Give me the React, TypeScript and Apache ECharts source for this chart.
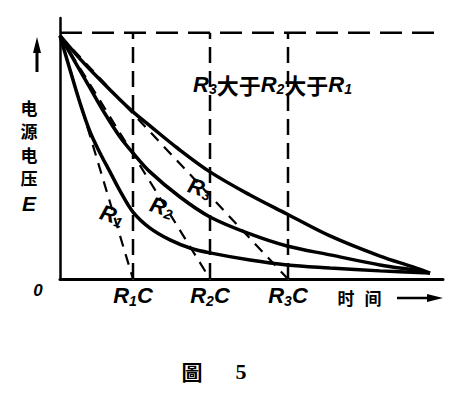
import React, { useEffect, useRef } from 'react';
import * as echarts from 'echarts';

// time axis in arbitrary units (R1C = 73), voltage as fraction of source E
const r3Time = [0, 20, 40, 60, 73, 90, 117, 150, 190, 227, 270, 320, 353, 370];
const r3Volt = [0.988, 0.894, 0.809, 0.728, 0.679, 0.622, 0.533, 0.435, 0.341, 0.264, 0.175, 0.093, 0.049, 0.024];
const r2Time = [0, 15, 30, 45, 60, 73, 90, 120, 150, 190, 227, 270, 320, 360, 370];
const r2Volt = [0.988, 0.882, 0.776, 0.671, 0.577, 0.512, 0.435, 0.333, 0.252, 0.183, 0.134, 0.098, 0.057, 0.033, 0.024];
const r1Time = [0, 10, 20, 30, 40, 50, 60, 73, 90, 110, 130, 150, 190, 227, 270, 320, 370];
const r1Volt = [0.988, 0.85, 0.715, 0.598, 0.512, 0.435, 0.358, 0.272, 0.207, 0.159, 0.126, 0.106, 0.077, 0.057, 0.045, 0.033, 0.024];
const rcTimes = [73, 150, 228];
const rcSubs = ['1', '2', '3'];
const startVolt = 0.988;
const sourceVolt = 1;
const timeMax = 383;
const voltMax = 1.06;

const ITALIC = 'Liberation Sans';
const CJK = 'Noto Sans CJK SC';

const richR = {
  r: { fontFamily: ITALIC, fontStyle: 'italic' as const, fontWeight: 'bold' as const, fontSize: 22, color: '#000', fill: '#000' },
  s: { fontFamily: ITALIC, fontStyle: 'italic' as const, fontWeight: 'bold' as const, fontSize: 14, color: '#000', fill: '#000', padding: [10, 0, 0, 0] },
  c: { fontFamily: CJK, fontWeight: 'bold' as const, fontSize: 22, color: '#000', fill: '#000' },
};

export default function App() {
  const ref = useRef<HTMLDivElement>(null);
  useEffect(() => {
    if (!ref.current) return;
    const chart = echarts.init(ref.current, undefined, { renderer: 'svg' });
    const zip = (xs: number[], ys: number[]) => xs.map((x, i) => [x, ys[i]]);
    const curve = (name: string, xs: number[], ys: number[]) => ({
      name,
      type: 'line',
      data: zip(xs, ys),
      smooth: 0.35,
      showSymbol: false,
      symbol: 'none',
      lineStyle: { color: '#000', width: 3.5 },
      z: 5,
    });
    const dashed = (data: number[][], dash: number[], width = 2.5) => ({
      type: 'line',
      data,
      showSymbol: false,
      symbol: 'none',
      lineStyle: { color: '#000', width, type: dash },
      z: 3,
    });
    const series: any[] = [
      curve('R3', r3Time, r3Volt),
      curve('R2', r2Time, r2Volt),
      curve('R1', r1Time, r1Volt),
      ...rcTimes.map((t) => dashed([[0, startVolt], [t, 0]], [11, 8], 2.2)),
      ...rcTimes.map((t) => dashed([[t, 0], [t, sourceVolt]], [16, 8], 2.5)),
      dashed([[0, sourceVolt], [timeMax - 3, sourceVolt]], [22, 10], 2.5),
      {
        type: 'scatter',
        data: rcTimes.map((t, i) => ({
          value: [t, 0],
          label: {
            show: true,
            position: 'bottom',
            distance: 4,
            color: '#000',
            opacity: 1,
            formatter: `{r|R}{s|${rcSubs[i]}}{r|C}`,
            rich: richR,
          },
        })),
        symbol: 'circle',
        symbolSize: 1,
        itemStyle: { color: '#fff', opacity: 1 },
        z: 1,
        silent: true,
      },
    ];
    const txt = (text: string, x: number, y: number, style: any, extra: any = {}) => ({
      type: 'text',
      x,
      y,
      style: { text, fill: '#000', align: 'center', verticalAlign: 'middle', ...style },
      ...extra,
    });
    const yChars = ['电', '源', '电', '压'];
    const graphic: any[] = [
      { type: 'line', shape: { x1: 37, y1: 72, x2: 37, y2: 48 }, style: { stroke: '#000', lineWidth: 3 } },
      { type: 'polygon', shape: { points: [[33, 53], [41, 53], [37, 37]] }, style: { fill: '#000' } },
      ...yChars.map((c, i) => txt(c, 29, 107 + i * 23.5, { font: `bold 17px "${CJK}"` })),
      txt('E', 29, 203, { font: `italic bold 21px "${ITALIC}"` }),
      txt('0', 38, 290, { font: `italic bold 17px "${ITALIC}"` }),
      txt('时', 346, 297, { font: `bold 17px "${CJK}"` }),
      txt('间', 373, 297, { font: `bold 17px "${CJK}"` }),
      { type: 'line', shape: { x1: 397, y1: 298, x2: 432, y2: 298 }, style: { stroke: '#000', lineWidth: 2.5 } },
      { type: 'polygon', shape: { points: [[427, 294], [443, 298], [427, 302]] }, style: { fill: '#000' } },
      txt('{r|R}{s|3}{c|大于}{r|R}{s|2}{c|大于}{r|R}{s|1}', 193, 84, { align: 'left', rich: richR }),
      txt('{r|R}{s|3}', 200, 188, { rich: richR }, { rotation: -0.3 }),
      txt('{r|R}{s|2}', 162, 207, { rich: richR }, { rotation: -0.3 }),
      txt('{r|R}{s|1}', 112, 215, { rich: richR }, { rotation: -0.3 }),
      txt('圖', 192, 371, { font: `bold 21px "Noto Sans CJK TC"` }),
      txt('5', 241, 371, { font: `bold 22px "Liberation Serif"` }),
    ];
    chart.setOption({
      animation: false,
      backgroundColor: '#fff',
      grid: { left: 60, right: 10, top: 18, bottom: 120 },
      xAxis: {
        type: 'value',
        min: 0,
        max: timeMax,
        axisLine: { show: true, lineStyle: { color: '#000', width: 3 } },
        axisTick: { show: false },
        axisLabel: { show: false },
        splitLine: { show: false },
      },
      yAxis: {
        type: 'value',
        min: 0,
        max: voltMax,
        axisLine: { show: true, lineStyle: { color: '#000', width: 2.5 } },
        axisTick: { show: false },
        axisLabel: { show: false },
        splitLine: { show: false },
      },
      series,
      graphic,
    });
    return () => chart.dispose();
  }, []);
  return <div ref={ref} style={{ position: 'fixed', left: 0, top: 0, width: 453, height: 399 }} />;
}
